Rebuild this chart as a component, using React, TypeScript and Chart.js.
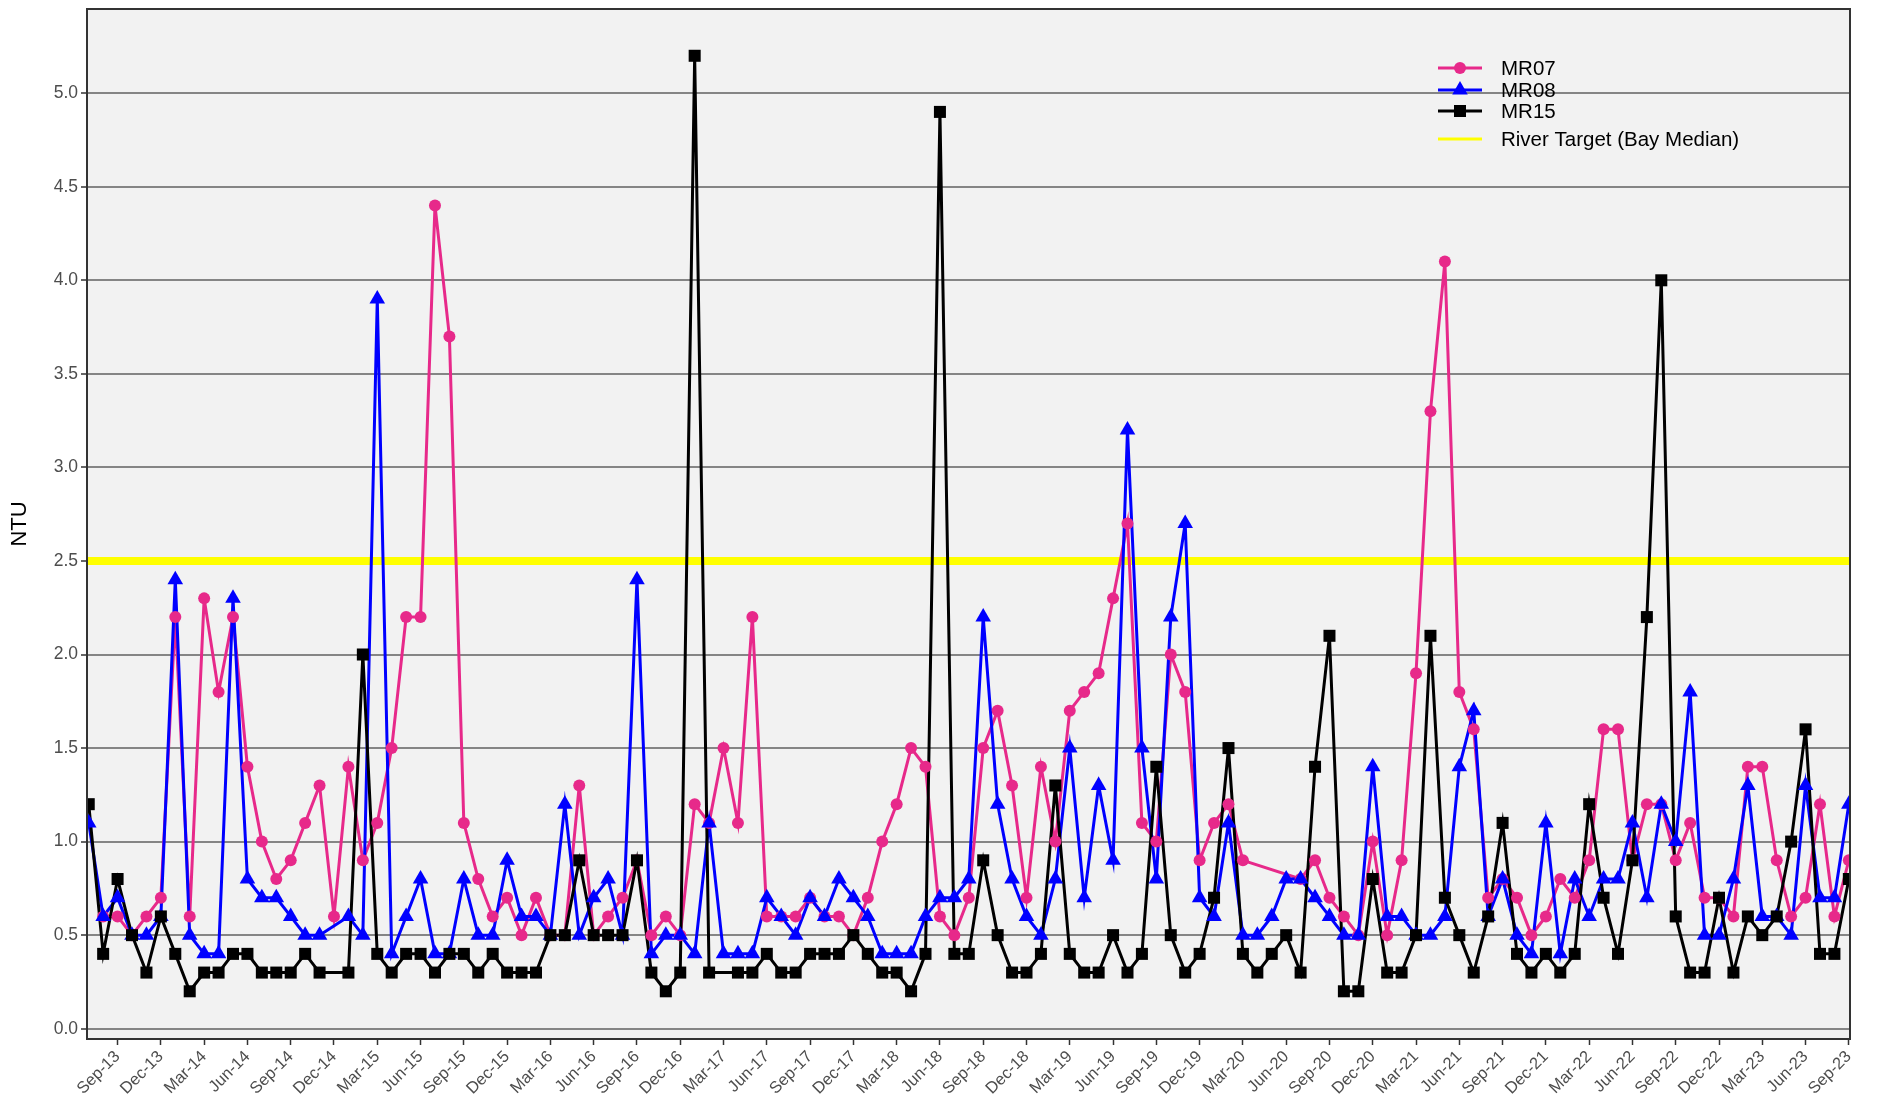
import React, { useEffect, useRef } from 'react';
import { Chart, registerables } from 'chart.js';

Chart.register(...registerables);

// Monthly samples, index 0 = Jul-2013 ... index 122 = Sep-2023
const START_YEAR = 2013;
const START_MONTH = 7;

const MR07: (number | null)[] = [
  null, 0.6, 0.6, 0.5, 0.6, 0.7, 2.2, 0.6, 2.3, 1.8, 2.2, 1.4,
  1.0, 0.8, 0.9, 1.1, 1.3, 0.6, 1.4, 0.9, 1.1, 1.5, 2.2, 2.2,
  4.4, 3.7, 1.1, 0.8, 0.6, 0.7, 0.5, 0.7, 0.5, 0.5, 1.3, 0.5,
  0.6, 0.7, 0.9, 0.5, 0.6, 0.5, 1.2, 1.1, 1.5, 1.1, 2.2, 0.6,
  0.6, 0.6, 0.7, 0.6, 0.6, 0.5, 0.7, 1.0, 1.2, 1.5, 1.4, 0.6,
  0.5, 0.7, 1.5, 1.7, 1.3, 0.7, 1.4, 1.0, 1.7, 1.8, 1.9, 2.3,
  2.7, 1.1, 1.0, 2.0, 1.8, 0.9, 1.1, 1.2, 0.9, null, null, null,
  0.8, 0.9, 0.7, 0.6, 0.5, 1.0, 0.5, 0.9, 1.9, 3.3, 4.1, 1.8,
  1.6, 0.7, 0.8, 0.7, 0.5, 0.6, 0.8, 0.7, 0.9, 1.6, 1.6, 0.9,
  1.2, 1.2, 0.9, 1.1, 0.7, 0.7, 0.6, 1.4, 1.4, 0.9, 0.6, 0.7,
  1.2, 0.6, 0.9,
];

const MR08: (number | null)[] = [
  1.1, 0.6, 0.7, 0.5, 0.5, 0.6, 2.4, 0.5, 0.4, 0.4, 2.3, 0.8,
  0.7, 0.7, 0.6, 0.5, 0.5, null, 0.6, 0.5, 3.9, 0.4, 0.6, 0.8,
  0.4, 0.4, 0.8, 0.5, 0.5, 0.9, 0.6, 0.6, 0.5, 1.2, 0.5, 0.7,
  0.8, 0.5, 2.4, 0.4, 0.5, 0.5, 0.4, 1.1, 0.4, 0.4, 0.4, 0.7,
  0.6, 0.5, 0.7, 0.6, 0.8, 0.7, 0.6, 0.4, 0.4, 0.4, 0.6, 0.7,
  0.7, 0.8, 2.2, 1.2, 0.8, 0.6, 0.5, 0.8, 1.5, 0.7, 1.3, 0.9,
  3.2, 1.5, 0.8, 2.2, 2.7, 0.7, 0.6, 1.1, 0.5, 0.5, 0.6, 0.8,
  0.8, 0.7, 0.6, 0.5, 0.5, 1.4, 0.6, 0.6, 0.5, 0.5, 0.6, 1.4,
  1.7, 0.6, 0.8, 0.5, 0.4, 1.1, 0.4, 0.8, 0.6, 0.8, 0.8, 1.1,
  0.7, 1.2, 1.0, 1.8, 0.5, 0.5, 0.8, 1.3, 0.6, 0.6, 0.5, 1.3,
  0.7, 0.7, 1.2,
];

const MR15: (number | null)[] = [
  1.2, 0.4, 0.8, 0.5, 0.3, 0.6, 0.4, 0.2, 0.3, 0.3, 0.4, 0.4,
  0.3, 0.3, 0.3, 0.4, 0.3, null, 0.3, 2.0, 0.4, 0.3, 0.4, 0.4,
  0.3, 0.4, 0.4, 0.3, 0.4, 0.3, 0.3, 0.3, 0.5, 0.5, 0.9, 0.5,
  0.5, 0.5, 0.9, 0.3, 0.2, 0.3, 5.2, 0.3, null, 0.3, 0.3, 0.4,
  0.3, 0.3, 0.4, 0.4, 0.4, 0.5, 0.4, 0.3, 0.3, 0.2, 0.4, 4.9,
  0.4, 0.4, 0.9, 0.5, 0.3, 0.3, 0.4, 1.3, 0.4, 0.3, 0.3, 0.5,
  0.3, 0.4, 1.4, 0.5, 0.3, 0.4, 0.7, 1.5, 0.4, 0.3, 0.4, 0.5,
  0.3, 1.4, 2.1, 0.2, 0.2, 0.8, 0.3, 0.3, 0.5, 2.1, 0.7, 0.5,
  0.3, 0.6, 1.1, 0.4, 0.3, 0.4, 0.3, 0.4, 1.2, 0.7, 0.4, 0.9,
  2.2, 4.0, 0.6, 0.3, 0.3, 0.7, 0.3, 0.6, 0.5, 0.6, 1.0, 1.6,
  0.4, 0.4, 0.8,
];

const TARGET = 2.5;

const TICK_LABELS = [
  'Sep-13', 'Dec-13', 'Mar-14', 'Jun-14', 'Sep-14', 'Dec-14', 'Mar-15', 'Jun-15',
  'Sep-15', 'Dec-15', 'Mar-16', 'Jun-16', 'Sep-16', 'Dec-16', 'Mar-17', 'Jun-17',
  'Sep-17', 'Dec-17', 'Mar-18', 'Jun-18', 'Sep-18', 'Dec-18', 'Mar-19', 'Jun-19',
  'Sep-19', 'Dec-19', 'Mar-20', 'Jun-20', 'Sep-20', 'Dec-20', 'Mar-21', 'Jun-21',
  'Sep-21', 'Dec-21', 'Mar-22', 'Jun-22', 'Sep-22', 'Dec-22', 'Mar-23', 'Jun-23',
  'Sep-23',
];

const Y_TICKS = [0, 0.5, 1.0, 1.5, 2.0, 2.5, 3.0, 3.5, 4.0, 4.5, 5.0];

const SERIES_NAMES = ['MR07', 'MR08', 'MR15'];
const SERIES_COLORS = ['#E7298A', '#0000FF', '#000000'];
const TARGET_NAME = 'River Target (Bay Median)';
const TARGET_COLOR = '#FFFF00';

const MONTH_ABBR = ['Jan', 'Feb', 'Mar', 'Apr', 'May', 'Jun', 'Jul', 'Aug', 'Sep', 'Oct', 'Nov', 'Dec'];

function monthIndex(label: string): number {
  const [m, yy] = label.split('-');
  const year = 2000 + Number(yy);
  return (year - START_YEAR) * 12 + MONTH_ABBR.indexOf(m) + 1 - START_MONTH;
}

const X_MIN = -0.12;
const X_MAX = 122.08;
const Y_MIN = -0.055;
const Y_MAX = 5.45;

const FONT = '"Liberation Sans", Arial, Helvetica, sans-serif';

const R_CIRCLE = 6;
const R_TRIANGLE = 9;
const R_RECT = 8.5;

function toPoints(arr: (number | null)[]) {
  return arr.map((v, i) => ({ x: i, y: v }));
}

function drawMarker(ctx: CanvasRenderingContext2D, style: string, x: number, y: number, color: string) {
  ctx.fillStyle = color;
  ctx.beginPath();
  if (style === 'circle') {
    ctx.arc(x, y, R_CIRCLE, 0, Math.PI * 2);
  } else if (style === 'triangle') {
    const r = R_TRIANGLE;
    ctx.moveTo(x, y - r);
    ctx.lineTo(x + r * Math.sin((2 * Math.PI) / 3), y - r * Math.cos((2 * Math.PI) / 3));
    ctx.lineTo(x + r * Math.sin((4 * Math.PI) / 3), y - r * Math.cos((4 * Math.PI) / 3));
    ctx.closePath();
  } else {
    const h = R_RECT * Math.SQRT1_2;
    ctx.rect(x - h, y - h, 2 * h, 2 * h);
  }
  ctx.fill();
}

const panelPlugin = {
  id: 'panelPlugin',
  beforeDraw(chart: any) {
    const { ctx, chartArea, width, height } = chart;
    ctx.save();
    ctx.fillStyle = '#FFFFFF';
    ctx.fillRect(0, 0, width, height);
    ctx.fillStyle = '#F2F2F2';
    ctx.fillRect(chartArea.left, chartArea.top, chartArea.right - chartArea.left, chartArea.bottom - chartArea.top);
    ctx.restore();
  },
  afterDraw(chart: any) {
    const { ctx, chartArea } = chart;
    ctx.save();
    ctx.strokeStyle = '#333333';
    ctx.lineWidth = 2;
    ctx.strokeRect(chartArea.left, chartArea.top, chartArea.right - chartArea.left, chartArea.bottom - chartArea.top);

    // legend (inside panel, top right, transparent background)
    const styles = ['circle', 'triangle', 'rect'];
    const rowsY = [68, 90, 111];
    const keyL = 1438;
    const keyR = 1482;
    const textX = 1501;
    ctx.font = `20.5px ${FONT}`;
    ctx.textBaseline = 'middle';
    ctx.textAlign = 'left';
    SERIES_NAMES.forEach((name, i) => {
      const y = rowsY[i];
      ctx.strokeStyle = SERIES_COLORS[i];
      ctx.lineWidth = 3;
      ctx.beginPath();
      ctx.moveTo(keyL, y);
      ctx.lineTo(keyR, y);
      ctx.stroke();
      drawMarker(ctx, styles[i], (keyL + keyR) / 2, y, SERIES_COLORS[i]);
      ctx.fillStyle = '#000000';
      ctx.fillText(name, textX, y + 1);
    });
    const ty = 139;
    ctx.strokeStyle = TARGET_COLOR;
    ctx.lineWidth = 3;
    ctx.beginPath();
    ctx.moveTo(keyL, ty);
    ctx.lineTo(keyR, ty);
    ctx.stroke();
    ctx.fillStyle = '#000000';
    ctx.fillText(TARGET_NAME, textX, ty + 1);
    ctx.restore();
  },
};

export default function App() {
  const canvasRef = useRef<HTMLCanvasElement | null>(null);

  useEffect(() => {
    const canvas = canvasRef.current;
    if (!canvas) return;

    const lineDs = (i: number, arr: (number | null)[]) => ({
      label: SERIES_NAMES[i] + ' line',
      data: toPoints(arr),
      borderColor: SERIES_COLORS[i],
      backgroundColor: SERIES_COLORS[i],
      borderWidth: 3,
      pointRadius: 0,
      spanGaps: true,
      tension: 0,
      fill: false,
    });
    const pointDs = (i: number, arr: (number | null)[], style: string, radius: number) => ({
      label: SERIES_NAMES[i],
      data: toPoints(arr),
      showLine: false,
      pointStyle: style,
      pointRadius: radius,
      pointBackgroundColor: SERIES_COLORS[i],
      pointBorderColor: SERIES_COLORS[i],
      pointBorderWidth: 0,
      borderColor: SERIES_COLORS[i],
      backgroundColor: SERIES_COLORS[i],
    });

    const chart = new Chart(canvas, {
      type: 'line',
      data: {
        datasets: [
          // first = drawn on top
          pointDs(2, MR15, 'rect', R_RECT) as any,
          pointDs(1, MR08, 'triangle', R_TRIANGLE) as any,
          pointDs(0, MR07, 'circle', R_CIRCLE) as any,
          lineDs(2, MR15) as any,
          lineDs(1, MR08) as any,
          lineDs(0, MR07) as any,
          {
            label: TARGET_NAME,
            data: [
              { x: X_MIN, y: TARGET },
              { x: X_MAX, y: TARGET },
            ],
            borderColor: TARGET_COLOR,
            backgroundColor: TARGET_COLOR,
            borderWidth: 8,
            pointRadius: 0,
            fill: false,
          } as any,
        ],
      },
      options: {
        responsive: false,
        animation: false,
        layout: { padding: { left: 0, top: 4, right: 29, bottom: 0 } },
        plugins: {
          legend: { display: false },
          tooltip: { enabled: false },
          title: { display: false },
        },
        scales: {
          x: {
            type: 'linear',
            min: X_MIN,
            max: X_MAX,
            afterBuildTicks: (scale: any) => {
              scale.ticks = TICK_LABELS.map((l) => ({ value: monthIndex(l) }));
            },
            afterFit: (scale: any) => {
              scale.height = 78;
              scale.paddingLeft = 0;
              scale.paddingRight = 0;
            },
            ticks: {
              autoSkip: false,
              maxRotation: 45,
              minRotation: 45,
              padding: 2,
              color: '#4D4D4D',
              font: { family: FONT, size: 16.5 },
              callback: (_v: any, i: number) => TICK_LABELS[i],
            },
            grid: {
              drawOnChartArea: false,
              drawTicks: true,
              tickLength: 6,
              tickColor: '#333333',
              tickWidth: 1.5,
            },
            border: { display: false },
          },
          y: {
            type: 'linear',
            min: Y_MIN,
            max: Y_MAX,
            afterBuildTicks: (scale: any) => {
              scale.ticks = Y_TICKS.map((v) => ({ value: v }));
            },
            afterFit: (scale: any) => {
              scale.width = 87;
              scale.paddingTop = 0;
              scale.paddingBottom = 0;
            },
            ticks: {
              padding: 3,
              color: '#4D4D4D',
              font: { family: FONT, size: 17.5 },
              callback: (v: any) => Number(v).toFixed(1),
            },
            grid: {
              color: '#858585',
              lineWidth: 2,
              drawTicks: true,
              tickLength: 6,
              tickColor: '#333333',
              tickWidth: 1.5,
            },
            border: { display: false },
            title: {
              display: true,
              text: 'NTU',
              color: '#000000',
              font: { family: FONT, size: 22 },
              padding: { top: 7, bottom: 0 },
            },
          },
        },
      } as any,
      plugins: [panelPlugin],
    });

    return () => {
      chart.destroy();
    };
  }, []);

  return (
    <div style={{ position: 'absolute', left: 0, top: 0, width: 1879, height: 1117, background: '#FFFFFF' }}>
      <canvas ref={canvasRef} width={1879} height={1117} style={{ display: 'block', width: 1879, height: 1117 }} />
    </div>
  );
}
